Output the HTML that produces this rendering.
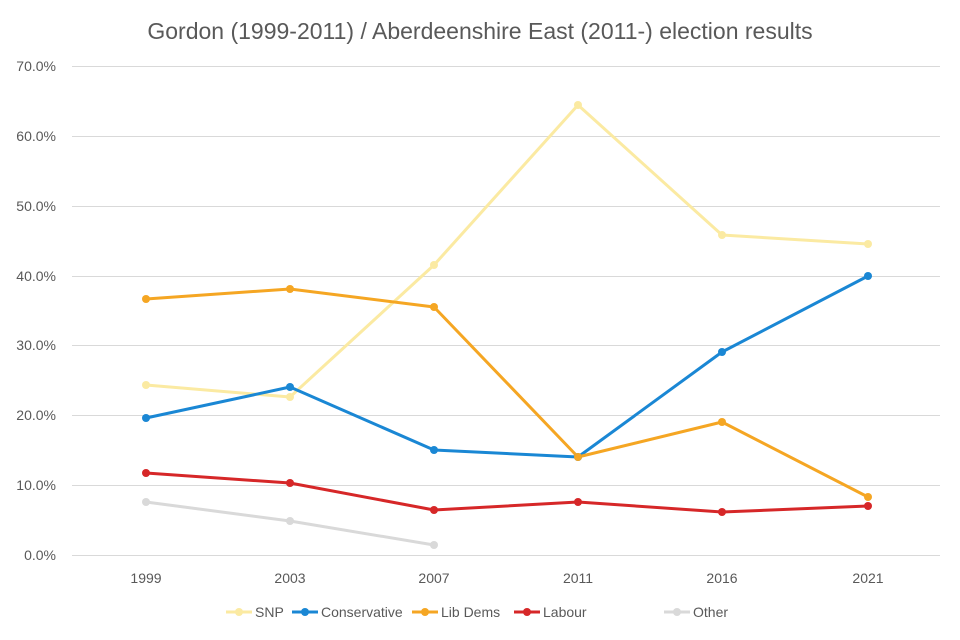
<!DOCTYPE html>
<html><head><meta charset="utf-8"><style>
body{margin:0;background:#fff}
svg{display:block;font-family:"Liberation Sans",sans-serif}
</style></head><body>
<svg width="960" height="640" viewBox="0 0 960 640">
<rect width="960" height="640" fill="#fff"/>
<text x="480" y="39" text-anchor="middle" font-size="23" fill="#595959">Gordon (1999-2011) / Aberdeenshire East (2011-) election results</text>
<g stroke="#d9d9d9" stroke-width="1">
<line x1="72" x2="940" y1="66.5" y2="66.5"/>
<line x1="72" x2="940" y1="136.5" y2="136.5"/>
<line x1="72" x2="940" y1="206.5" y2="206.5"/>
<line x1="72" x2="940" y1="276.5" y2="276.5"/>
<line x1="72" x2="940" y1="345.5" y2="345.5"/>
<line x1="72" x2="940" y1="415.5" y2="415.5"/>
<line x1="72" x2="940" y1="485.5" y2="485.5"/>
<line x1="72" x2="940" y1="555.5" y2="555.5"/>
</g>
<g font-size="14" fill="#595959" text-anchor="end">
<text x="56" y="71">70.0%</text><text x="56" y="141">60.0%</text><text x="56" y="211">50.0%</text><text x="56" y="281">40.0%</text><text x="56" y="350">30.0%</text><text x="56" y="420">20.0%</text><text x="56" y="490">10.0%</text><text x="56" y="560">0.0%</text>
</g>
<g font-size="14" fill="#595959" text-anchor="middle">
<text x="146" y="583">1999</text><text x="290" y="583">2003</text><text x="434" y="583">2007</text><text x="578" y="583">2011</text><text x="722" y="583">2016</text><text x="868" y="583">2021</text>
</g>
<g fill="none" stroke-width="3" stroke-linejoin="round">
<polyline stroke="#fbeaa2" points="146,385 290,397 434,265 578,105 722,235 868,244"/>
<polyline stroke="#d9d9d9" points="146,502 290,521 434,545"/>
<polyline stroke="#1a87d4" points="146,418 290,387 434,450 578,457 722,352 868,276"/>
<polyline stroke="#f5a623" points="146,299 290,289 434,307 578,457 722,422 868,497"/>
<polyline stroke="#d62728" points="146,473 290,483 434,510 578,502 722,512 868,506"/>
</g>
<g fill="#fbeaa2"><circle cx="146" cy="385" r="4"/><circle cx="290" cy="397" r="4"/><circle cx="434" cy="265" r="4"/><circle cx="578" cy="105" r="4"/><circle cx="722" cy="235" r="4"/><circle cx="868" cy="244" r="4"/></g>
<g fill="#d9d9d9"><circle cx="146" cy="502" r="4"/><circle cx="290" cy="521" r="4"/><circle cx="434" cy="545" r="4"/></g>
<g fill="#1a87d4"><circle cx="146" cy="418" r="4"/><circle cx="290" cy="387" r="4"/><circle cx="434" cy="450" r="4"/><circle cx="578" cy="457" r="4"/><circle cx="722" cy="352" r="4"/><circle cx="868" cy="276" r="4"/></g>
<g fill="#f5a623"><circle cx="146" cy="299" r="4"/><circle cx="290" cy="289" r="4"/><circle cx="434" cy="307" r="4"/><circle cx="578" cy="457" r="4"/><circle cx="722" cy="422" r="4"/><circle cx="868" cy="497" r="4"/></g>
<g fill="#d62728"><circle cx="146" cy="473" r="4"/><circle cx="290" cy="483" r="4"/><circle cx="434" cy="510" r="4"/><circle cx="578" cy="502" r="4"/><circle cx="722" cy="512" r="4"/><circle cx="868" cy="506" r="4"/></g>
<g font-size="14" fill="#595959" stroke-width="3">
<line x1="226" x2="252" y1="612" y2="612" stroke="#fbeaa2"/><circle cx="239" cy="612" r="4" fill="#fbeaa2"/><text x="255" y="617">SNP</text>
<line x1="292" x2="318" y1="612" y2="612" stroke="#1a87d4"/><circle cx="305" cy="612" r="4" fill="#1a87d4"/><text x="321" y="617">Conservative</text>
<line x1="412" x2="438" y1="612" y2="612" stroke="#f5a623"/><circle cx="425" cy="612" r="4" fill="#f5a623"/><text x="441" y="617">Lib Dems</text>
<line x1="514" x2="540" y1="612" y2="612" stroke="#d62728"/><circle cx="527" cy="612" r="4" fill="#d62728"/><text x="543" y="617">Labour</text>
<line x1="664" x2="690" y1="612" y2="612" stroke="#d9d9d9"/><circle cx="677" cy="612" r="4" fill="#d9d9d9"/><text x="693" y="617">Other</text>
</g>
</svg>
</body></html>
